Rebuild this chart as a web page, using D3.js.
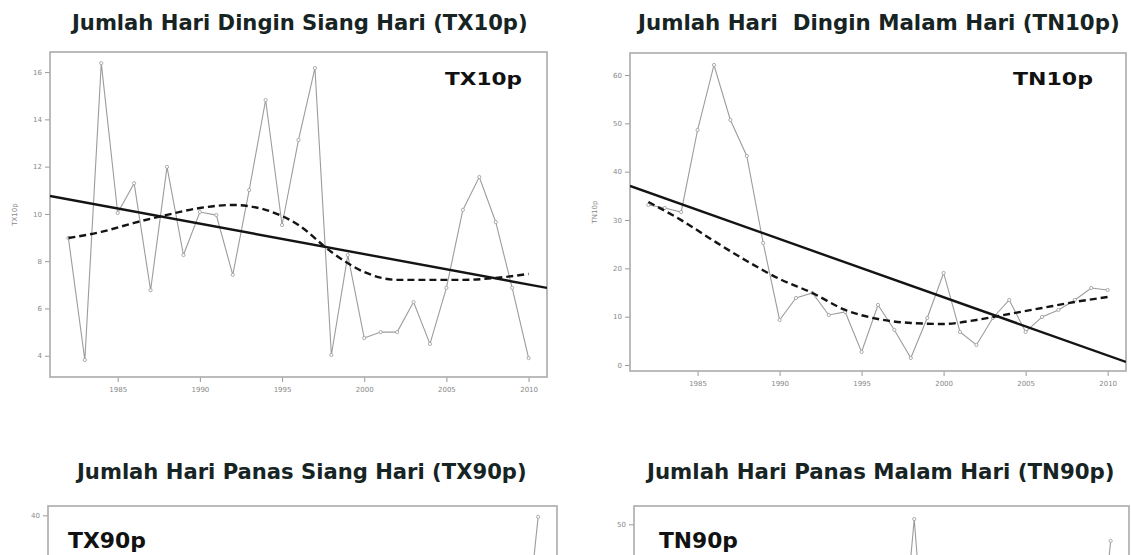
<!DOCTYPE html>
<html>
<head>
<meta charset="utf-8">
<script src="https://cdn.jsdelivr.net/npm/d3@7"></script>
<style>
  body { margin: 0; background: #fff; }
  svg { display: block; }
</style>
</head>
<body>
<div id="chart"></div>
<script>
// years on the x axis (all four panels share them)
const years = [1982, 1983, 1984, 1985, 1986, 1987, 1988, 1989, 1990, 1991,
  1992, 1993, 1994, 1995, 1996, 1997, 1998, 1999, 2000, 2001,
  2002, 2003, 2004, 2005, 2006, 2007, 2008, 2009, 2010];
const smoothYears = [1982, 1984, 1986, 1988, 1990, 1992, 1994, 1996, 1998, 2000, 2002, 2004, 2006, 2008, 2010];
const xTickYears = [1985, 1990, 1995, 2000, 2005, 2010];
const xDomain = [1980.88, 2011.12];

// TX10p - cold days
const tx10p = [8.98, 3.82, 16.38, 10.04, 11.3, 6.77, 11.99, 8.26, 10.08, 9.95,
  7.42, 11.01, 14.82, 9.53, 13.13, 16.17, 4.03, 8.26, 4.75, 5.0,
  5.0, 6.27, 4.5, 6.87, 10.17, 11.56, 9.66, 6.87, 3.9];
const tx10pSmooth = [8.98, 9.24, 9.62, 9.96, 10.25, 10.38, 10.17, 9.53, 8.39, 7.54, 7.21, 7.21, 7.21, 7.29, 7.46];
const tx10pTrend = [10.76, 6.87];
const tx10pTicks = [4, 6, 8, 10, 12, 14, 16];

// TN10p - cold nights
const tn10p = [33.11, 32.49, 31.66, 48.62, 62.07, 50.69, 43.24, 25.24, 9.32, 13.87,
  14.9, 10.35, 10.97, 2.7, 12.42, 7.25, 1.46, 9.73, 19.04, 6.84,
  4.15, 9.73, 13.45, 6.84, 9.94, 11.38, 13.45, 15.94, 15.52];
const tn10pSmooth = [33.73, 29.98, 25.66, 21.52, 17.8, 14.9, 11.39, 9.52, 8.7, 8.49, 9.32, 10.56, 11.8, 13.04, 14.07];
const tn10pTrend = [37.04, 0.63];
const tn10pTicks = [0, 10, 20, 30, 40, 50, 60];

// TX90p / TN90p - only the top of these panels is in the picture,
// values that cannot be seen are left null
const tx90p = [null, null, null, null, null, null, null, null, null, null,
  null, null, null, null, null, null, null, null, null, null,
  null, null, null, null, null, null, null, 19, 39.8];
const tx90pTicks = [0, 10, 20, 30, 40];
const tn90p = [null, null, null, null, null, null, null, null, null, null,
  null, null, null, null, null, 20, 50.9, 15, null, null,
  null, null, null, null, null, null, null, 19, 47.2];
const tn90pTicks = [0, 10, 20, 30, 40, 50];

const width = 1131, height = 555;

const svg = d3.select('#chart').append('svg')
  .attr('width', width)
  .attr('height', height)
  .attr('viewBox', [0, 0, width, height]);

svg.append('rect').attr('width', width).attr('height', height).attr('fill', '#fff');

const panels = [
  {
    id: 'tx10p', title: 'Jumlah Hari Dingin Siang Hari (TX10p)', titleX: 72, titleY: 30, titleLen: 456, titleSize: 22,
    box: [50, 52, 547, 377], yDomain: [3.1, 16.85], yTicks: tx10pTicks,
    values: tx10p, smooth: tx10pSmooth, trend: tx10pTrend,
    label: 'TX10p', labelX: 445, labelY: 85, labelSize: 17, labelLen: 77, yTitle: 'TX10p'
  },
  {
    id: 'tn10p', title: 'Jumlah Hari  Dingin Malam Hari (TN10p)', titleX: 638, titleY: 30, titleLen: 482, titleSize: 22,
    box: [630, 53, 1126, 371], yDomain: [-1.24, 64.55], yTicks: tn10pTicks,
    values: tn10p, smooth: tn10pSmooth, trend: tn10pTrend,
    label: 'TN10p', labelX: 1013, labelY: 85, labelSize: 18, labelLen: 80, yTitle: 'TN10p'
  },
  {
    id: 'tx90p', title: 'Jumlah Hari Panas Siang Hari (TX90p)', titleX: 77, titleY: 479, titleLen: 450, titleSize: 21,
    box: [48, 506, 557, 832], yDomain: [-0.8, 41.2], yTicks: tx90pTicks,
    values: tx90p, smooth: null, trend: null,
    label: 'TX90p', labelX: 68, labelY: 548, labelSize: 21, labelLen: 78, yTitle: 'TX90p'
  },
  {
    id: 'tn90p', title: 'Jumlah Hari Panas Malam Hari (TN90p)', titleX: 647, titleY: 479, titleLen: 468, titleSize: 21,
    box: [634, 506, 1129, 832], yDomain: [-2, 53.1], yTicks: tn90pTicks,
    values: tn90p, smooth: null, trend: null,
    label: 'TN90p', labelX: 659, labelY: 548, labelSize: 21, labelLen: 79, yTitle: 'TN90p'
  }
];

panels.forEach(drawPanel);

// squeeze/stretch a text horizontally so it spans the given width
function fitText(sel, x, y, len) {
  const w = sel.node().getComputedTextLength();
  sel.attr('transform', `translate(${x},${y}) scale(${len / w},1)`);
}

function drawPanel(p) {
  const [x0, y0, x1, y1] = p.box;
  const x = d3.scaleLinear().domain(xDomain).range([x0, x1]);
  const y = d3.scaleLinear().domain(p.yDomain).range([y1, y0]);

  const g = svg.append('g');

  svg.append('clipPath').attr('id', 'clip-' + p.id)
    .append('rect').attr('x', x0).attr('y', y0).attr('width', x1 - x0).attr('height', y1 - y0);

  // panel title
  const title = g.append('text')
    .style('white-space', 'pre')
    .attr('font-family', 'DejaVu Sans, Verdana, sans-serif')
    .attr('font-weight', 'bold')
    .attr('font-size', p.titleSize)
    .attr('fill', '#172424')
    .text(p.title);
  fitText(title, p.titleX, p.titleY, p.titleLen);

  // only the part of the panel inside the picture gets tick labels
  const visibleY = p.yTicks.filter(v => y(v) < height - 6);

  const yAxis = g.append('g')
    .attr('transform', `translate(${x0},0)`)
    .call(d3.axisLeft(y).tickValues(visibleY).tickSize(5).tickPadding(3).tickFormat(d3.format('d')));
  const axes = [yAxis];

  if (y1 < height) {
    const xAxis = g.append('g')
      .attr('transform', `translate(0,${y1})`)
      .call(d3.axisBottom(x).tickValues(xTickYears).tickSize(5).tickPadding(5).tickFormat(d3.format('d')));
    axes.push(xAxis);
  }

  axes.forEach(a => {
    a.select('.domain').remove();
    a.selectAll('line').attr('stroke', '#999');
    a.selectAll('text')
      .attr('fill', '#888')
      .attr('font-size', 7)
      .attr('font-family', 'DejaVu Sans, sans-serif');
  });

  // y axis title
  if ((y0 + y1) / 2 < height) {
    g.append('text')
      .attr('transform', `translate(${x0 - 33},${(y0 + y1) / 2}) rotate(-90)`)
      .attr('text-anchor', 'middle')
      .attr('font-size', 7)
      .attr('font-family', 'DejaVu Sans, sans-serif')
      .attr('fill', '#888')
      .text(p.yTitle);
  }

  // plot frame
  g.append('rect')
    .attr('x', x0).attr('y', y0)
    .attr('width', x1 - x0).attr('height', y1 - y0)
    .attr('fill', 'none')
    .attr('stroke', '#ababab')
    .attr('stroke-width', 1.6);

  const inner = g.append('g').attr('clip-path', `url(#clip-${p.id})`);

  // observed series
  const pts = years.map((yr, i) => ({ yr, v: p.values[i] }));
  const line = d3.line()
    .defined(d => d.v != null)
    .x(d => x(d.yr))
    .y(d => y(d.v));

  inner.append('path')
    .datum(pts)
    .attr('d', line)
    .attr('fill', 'none')
    .attr('stroke', '#9c9c9c')
    .attr('stroke-width', 1.1);

  inner.selectAll('circle.pt')
    .data(pts.filter(d => d.v != null))
    .join('circle')
    .attr('class', 'pt')
    .attr('cx', d => x(d.yr))
    .attr('cy', d => y(d.v))
    .attr('r', 1.6)
    .attr('fill', '#fff')
    .attr('stroke', '#999')
    .attr('stroke-width', 0.8);

  // linear trend
  if (p.trend) {
    inner.append('path')
      .datum(xDomain.map((yr, i) => ({ yr, v: p.trend[i] })))
      .attr('d', d3.line().x(d => x(d.yr)).y(d => y(d.v)))
      .attr('fill', 'none')
      .attr('stroke', '#141414')
      .attr('stroke-width', 2.4);
  }

  // smoothed (loess) curve
  if (p.smooth) {
    inner.append('path')
      .datum(smoothYears.map((yr, i) => ({ yr, v: p.smooth[i] })))
      .attr('d', d3.line().curve(d3.curveMonotoneX).x(d => x(d.yr)).y(d => y(d.v)))
      .attr('fill', 'none')
      .attr('stroke', '#141414')
      .attr('stroke-width', 2.4)
      .attr('stroke-dasharray', '7,4');
  }

  // index label inside the plot
  const label = g.append('text')
    .attr('font-family', 'DejaVu Sans, Verdana, sans-serif')
    .attr('font-weight', 'bold')
    .attr('font-size', p.labelSize)
    .attr('fill', '#111')
    .text(p.label);
  fitText(label, p.labelX, p.labelY, p.labelLen);
}
</script>
</body>
</html>
